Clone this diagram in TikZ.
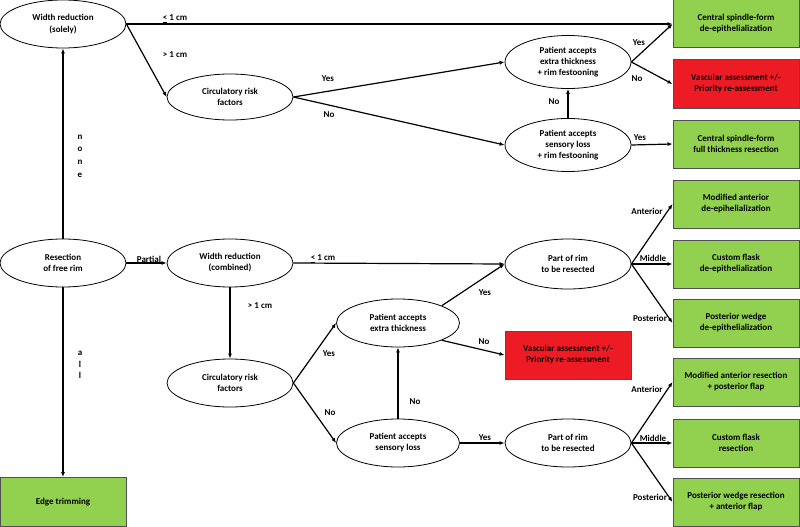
\documentclass[tikz,border=0pt]{standalone}
\usepackage{fontspec}
\setmainfont{Carlito}
\usetikzlibrary{shapes.geometric,arrows.meta}
\definecolor{boxgreen}{RGB}{146,208,80}
\definecolor{boxred}{RGB}{237,28,36}
\definecolor{boxrand}{RGB}{80,80,80}

\begin{document}
\begin{tikzpicture}[x=1pt,y=-1pt,>={Latex[length=5pt,width=4pt]},
		font=\fontsize{9}{11}\selectfont\bfseries,
		frage/.style={ellipse,draw,line width=0.8pt,minimum width=126pt,minimum height=48pt,inner sep=0pt,align=center},
		ergebnis/.style={rectangle,draw=boxrand,line width=1pt,fill=boxgreen,minimum width=126pt,minimum height=48pt,inner sep=0pt,align=center},
		warnung/.style={ergebnis,fill=boxred},
		pfeil/.style={->,line width=1.2pt},
		lbl/.style={inner sep=0pt,align=center}]
		\useasboundingbox (0,0) rectangle (800,527);
		% Fragen links
		\node [frage] (wrs) at (63,24) {Width reduction\\[1.5pt](solely)};
		\node [frage] (res) at (63,263) {Resection\\of free rim};
		\node [ergebnis,minimum height=49pt] (edge) at (63,502) {Edge trimming};
		\node [frage,minimum height=46pt] (crf1) at (230,97) {Circulatory risk\\factors};
		\node [frage] (wrc) at (230,263) {Width reduction\\(combined)};
		\node [frage] (crf2) at (230,383) {Circulatory risk\\factors};
		% Patient oben
		\node [frage,minimum height=53pt] (paet1) at (568,62) {Patient accepts\\extra thickness\\+ rim festooning};
		\node [frage,minimum height=53pt] (pasl1) at (568,145) {Patient accepts\\sensory loss\\+ rim festooning};
		% Patient unten
		\node [frage,minimum width=123pt] (paet2) at (398,323) {Patient accepts\\extra thickness};
		\node [frage,minimum width=123pt] (pasl2) at (398,443) {Patient accepts\\sensory loss};
		\node [frage,minimum height=50pt] (por1) at (568,264) {Part of rim\\to be resected};
		\node [frage] (por2) at (568,443) {Part of rim\\to be resected};
		\node [warnung] (vas2) at (568,355) {Vascular assessment +/-\\Priority re-assessment};
		% Ergebnisse rechts
		\node [ergebnis] (b1) at (736,24) {Central spindle-form\\de-epithelialization};
		\node [warnung] (vas1) at (736,84) {Vascular assessment +/-\\Priority re-assessment};
		\node [ergebnis] (b3) at (736,144) {Central spindle-form\\full thickness resection};
		\node [ergebnis] (b4) at (736,204) {Modified anterior\\de-epihelialization};
		\node [ergebnis] (b5) at (736,264) {Custom flask\\de-epithelialization};
		\node [ergebnis] (b6) at (736,323) {Posterior wedge\\de-epithelialization};
		\node [ergebnis] (b7) at (736,382) {Modified anterior resection\\+ posterior flap};
		\node [ergebnis] (b8) at (736,443) {Custom flask\\resection};
		\node [ergebnis] (b9) at (736,502) {Posterior wedge resection\\+ anterior flap};
		% Verbindungen oben
		\draw [pfeil] (res) -- (wrs);
		\draw [pfeil] (res) -- (edge);
		\draw [pfeil] (res) -- (wrc);
		\draw [pfeil] (wrs.east) -- (b1.west);
		\draw [pfeil] (wrs.east) -- (crf1.west);
		\draw [pfeil] (crf1.east) -- (paet1.west);
		\draw [pfeil] (crf1.east) -- (pasl1.west);
		\draw [pfeil] (pasl1) -- (paet1);
		\draw [pfeil] (paet1.east) -- (b1.west);
		\draw [pfeil] (paet1.east) -- (vas1.west);
		\draw [pfeil] (pasl1.east) -- (b3.west);
		% Verbindungen unten
		\draw [pfeil] (wrc.east) -- (por1.west);
		\draw [pfeil] (wrc) -- (crf2);
		\draw [pfeil] (crf2.east) -- (paet2.west);
		\draw [pfeil] (crf2.east) -- (pasl2.west);
		\draw [pfeil] (pasl2) -- (paet2);
		\draw [pfeil] (paet2.north east) -- (por1.west);
		\draw [pfeil] (paet2.south east) -- (vas2.west);
		\draw [pfeil] (pasl2.east) -- (por2.west);
		\foreach \quelle/\a/\m/\p in {por1/b4/b5/b6, por2/b7/b8/b9} {
			\draw [pfeil] (\quelle.east) -- (\a.west);
			\draw [pfeil] (\quelle.east) -- (\m.west);
			\draw [pfeil] (\quelle.east) -- (\p.west);
		}
		% Beschriftungen
		\node [lbl] (l1) at (175,19) {\underline{<} 1 cm};
		\node [lbl] (l2) at (175,55) {> 1 cm};
		\node [lbl] (l3) at (328,79) {Yes};
		\node [lbl] (l4) at (329,115) {No};
		\node [lbl] (l5) at (639,43) {Yes};
		\node [lbl] (l6) at (637,79) {No};
		\node [lbl] (l7) at (554,102) {No};
		\node [lbl] (l8) at (640,138) {Yes};
		\node [lbl,font=\fontsize{9}{12.7}\selectfont\bfseries] (l9) at (80,156) {n\\o\\n\\e};
		\node [lbl] (l10) at (149,259) {Partial};
		\node [lbl] (l11) at (323,259) {\underline{<} 1 cm};
		\node [lbl] (l12) at (260,306) {> 1 cm};
		\node [lbl,font=\fontsize{9}{11.5}\selectfont\bfseries] (l13) at (80,365) {a\\l\\l};
		\node [lbl] (l14) at (329,354) {Yes};
		\node [lbl] (l15) at (330,413) {No};
		\node [lbl] (l16) at (485,293) {Yes};
		\node [lbl] (l17) at (484,342) {No};
		\node [lbl] (l18) at (415,402) {No};
		\node [lbl] (l19) at (485,438) {Yes};
		\node [lbl] (l20) at (647,211) {Anterior};
		\node [lbl] (l21) at (653,258) {Middle};
		\node [lbl] (l22) at (650,318) {Posterior};
		\node [lbl] (l23) at (647,389) {Anterior};
		\node [lbl] (l24) at (653,438) {Middle};
		\node [lbl] (l25) at (650,497) {Posterior};
\end{tikzpicture}
\end{document}
